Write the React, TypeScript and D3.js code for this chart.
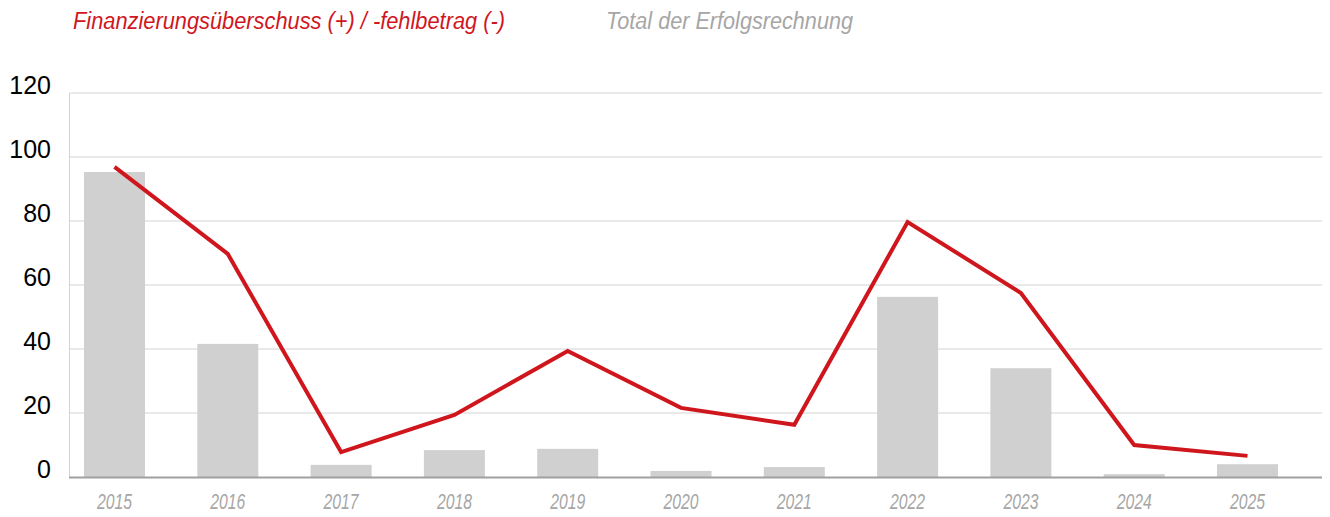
import React from "react";
import * as d3 from "d3";

const years = ["2015","2016","2017","2018","2019","2020","2021","2022","2023","2024","2025"];
const totalValues = [95.3, 41.6, 3.8, 8.4, 8.8, 1.9, 3.1, 56.3, 34.0, 0.9, 4.0];
const financeValues = [96.9, 69.7, 7.8, 19.4, 39.4, 21.6, 16.3, 79.7, 57.5, 10.0, 6.6];
const yTicks = [0, 20, 40, 60, 80, 100, 120];
const legendLabels = ["Finanzierungsüberschuss (+) / -fehlbetrag (-)", "Total der Erfolgsrechnung"];

const W = 1330, H = 517;
const RED = "#d0161d";
const BAR = "#d0d0d0";

export default function App() {
  const x = d3.scaleBand<string>().domain(years).range([57.85, 57.85 + 11 * 113.3]).padding(0);
  const y = d3.scaleLinear().domain([0, 120]).range([477, 93]);
  const barW = 61;
  const cx = (d: string) => (x(d) as number) + x.bandwidth() / 2;
  const line = d3.line<number>().x((_, i) => cx(years[i])).y((v) => y(v));
  const font = "'Liberation Sans', Arial, sans-serif";
  return (
    <svg width={W} height={H} style={{ position: "absolute", left: 0, top: 0, background: "#fff" }}>
      <text x={73} y={29} fill={RED} fontFamily={font} fontStyle="italic" fontSize={23.5} textLength={432} lengthAdjust="spacingAndGlyphs">{legendLabels[0]}</text>
      <text x={606} y={29} fill="#a6a6a6" fontFamily={font} fontStyle="italic" fontSize={23.5} textLength={247} lengthAdjust="spacingAndGlyphs">{legendLabels[1]}</text>
      {yTicks.map((t) => (
        <g key={t}>
          {t > 0 && <line x1={70} x2={1322} y1={y(t)} y2={y(t)} stroke="#d4d4d4" strokeWidth={1} />}
          <text x={51} y={y(t) + 1} textAnchor="end" fontFamily={font} fontSize={25} fill="#000">{t}</text>
        </g>
      ))}
      <line x1={69.5} x2={69.5} y1={93} y2={477} stroke="#d4d4d4" strokeWidth={1} />
      {years.map((d, i) => (
        <rect key={d} x={cx(d) - barW / 2} y={y(totalValues[i])} width={barW} height={y(0) - y(totalValues[i])} fill={BAR} />
      ))}
      <line x1={69} x2={1322} y1={477.5} y2={477.5} stroke="#a0a0a0" strokeWidth={2} />
      <path d={line(financeValues) || ""} fill="none" stroke={RED} strokeWidth={4} strokeLinejoin="miter" />
      {years.map((d) => (
        <text key={d} x={cx(d)} y={509} textAnchor="middle" fontFamily={font} fontStyle="italic" fontSize={22} fill="#a6a6a6" textLength={35} lengthAdjust="spacingAndGlyphs">{d}</text>
      ))}
    </svg>
  );
}
